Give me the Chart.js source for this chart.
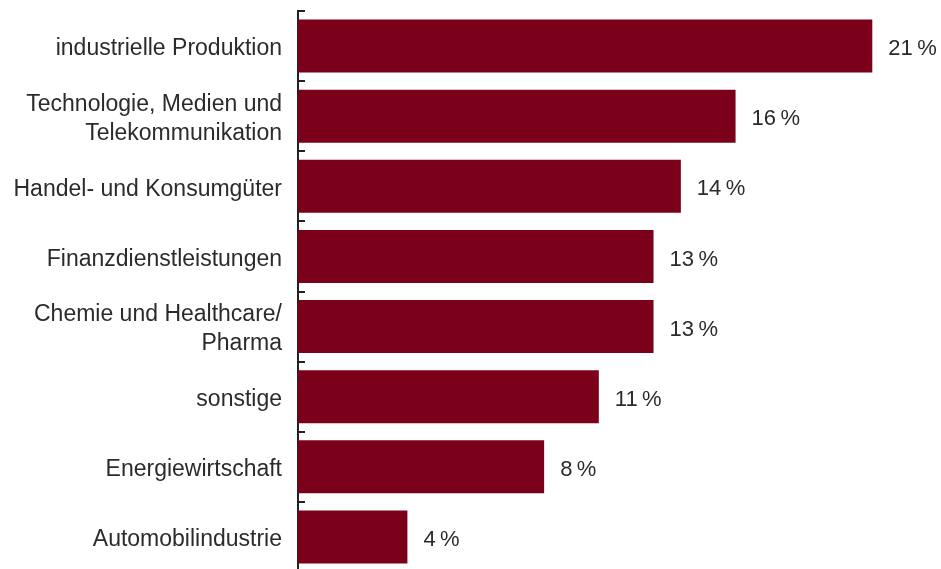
<!DOCTYPE html>
<html>
<head>
<meta charset="utf-8">
<script src="https://cdn.jsdelivr.net/npm/chart.js@4"></script>
<style>
  html, body { margin: 0; padding: 0; background: #fff; overflow: hidden; }
  #wrap { width: 941px; height: 572px; position: relative; }
</style>
</head>
<body>
<div id="wrap"><canvas id="chart"></canvas></div>
<script>
// Branchen und Anteile
const categories = [
    'industrielle Produktion',
    ['Technologie, Medien und', 'Telekommunikation'],
    'Handel- und Konsumgüter',
    'Finanzdienstleistungen',
    ['Chemie und Healthcare/', 'Pharma'],
    'sonstige',
    'Energiewirtschaft',
    'Automobilindustrie'
];
const shares = [21, 16, 14, 13, 13, 11, 9, 4];
const shareLabels = ['21\u2009%', '16\u2009%', '14\u2009%', '13\u2009%', '13\u2009%', '11\u2009%', '8\u2009%', '4\u2009%'];

const barColor = '#7b0019';
const textColor = '#2b2b2b';
const fontFamily = '"Liberation Sans", Arial, Helvetica, sans-serif';

// short ticks on the right side of the axis, between categories
const boundaryTicks = {
    id: 'boundaryTicks',
    afterDraw(chart) {
        const y = chart.scales.y;
        const x0 = chart.chartArea.left;
        const ctx = chart.ctx;
        const step = y.getPixelForValue(1) - y.getPixelForValue(0);
        ctx.save();
        ctx.strokeStyle = '#222';
        ctx.lineWidth = 2;
        for (let i = 0; i < categories.length; i++) {
            const py = Math.round(y.getPixelForValue(i) - step / 2);
            ctx.beginPath();
            ctx.moveTo(x0, py);
            ctx.lineTo(x0 + 7, py);
            ctx.stroke();
        }
        ctx.restore();
    }
};

// value text after each bar
const valueLabels = {
    id: 'valueLabels',
    afterDatasetsDraw(chart) {
        const ctx = chart.ctx;
        const meta = chart.getDatasetMeta(0);
        ctx.save();
        ctx.fillStyle = textColor;
        ctx.font = '22px ' + fontFamily;
        ctx.textAlign = 'left';
        ctx.textBaseline = 'middle';
        meta.data.forEach((bar, i) => {
            ctx.fillText(shareLabels[i], bar.x + 16, bar.y + 3);
        });
        ctx.restore();
    }
};

const ctx = document.getElementById('chart').getContext('2d');
new Chart(ctx, {
    type: 'bar',
    data: {
        labels: categories,
        datasets: [{
            data: shares,
            backgroundColor: barColor,
            borderWidth: 0,
            categoryPercentage: 1,
            barPercentage: 0.757
        }]
    },
    options: {
        indexAxis: 'y',
        responsive: true,
        maintainAspectRatio: false,
        animation: false,
        layout: { padding: { top: 11, right: 14, bottom: 0, left: 0 } },
        plugins: { legend: { display: false }, tooltip: { enabled: false } },
        scales: {
            x: { display: false, min: 0, max: 23 },
            y: {
                afterFit(scale) {
                    scale.width = 298;
                    scale.paddingTop = 0;
                    scale.paddingBottom = 0;
                },
                grid: { display: false, drawTicks: false },
                border: { display: true, color: '#222', width: 2 },
                ticks: {
                    color: textColor,
                    padding: 16,
                    labelOffset: 3,
                    font: { family: fontFamily, size: 23, lineHeight: 1.26 }
                }
            }
        }
    },
    plugins: [boundaryTicks, valueLabels]
});
</script>
</body>
</html>
